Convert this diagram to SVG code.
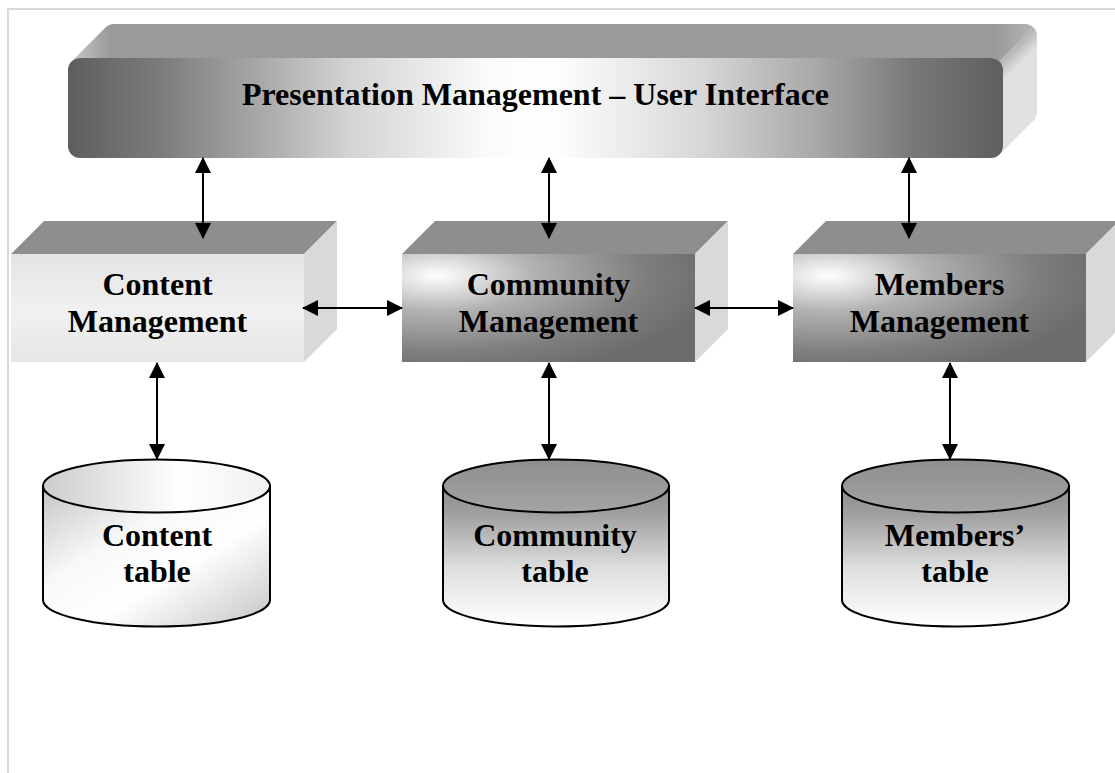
<svg xmlns="http://www.w3.org/2000/svg" width="1115" height="773" viewBox="0 0 1115 773">
<defs>
<style>
.lbl{font-family:"Liberation Serif","Times New Roman",serif;font-weight:bold;font-size:32px;fill:#000;text-anchor:middle}
.conn{stroke:#000;stroke-width:2;fill:none;marker-start:url(#ah);marker-end:url(#ah)}
.topf{fill:#8e8e8e}
.side{fill:#d9d9d9}
.cyl{stroke:#000;stroke-width:2}
</style>
<marker id="ah" viewBox="0 0 16 16" refX="15" refY="8" markerWidth="16" markerHeight="16" markerUnits="userSpaceOnUse" orient="auto-start-reverse">
<path d="M0,0 L16,8 L0,16 Z" fill="#000"/>
</marker>
<linearGradient id="gBar" x1="0" y1="0" x2="1" y2="0">
<stop offset="0" stop-color="#5e5e5e"/>
<stop offset="0.1" stop-color="#7c7c7c"/>
<stop offset="0.2" stop-color="#a6a6a6"/>
<stop offset="0.3" stop-color="#d3d3d3"/>
<stop offset="0.45" stop-color="#fbfbfb"/>
<stop offset="0.52" stop-color="#ffffff"/>
<stop offset="0.68" stop-color="#d6d6d6"/>
<stop offset="0.8" stop-color="#a8a8a8"/>
<stop offset="0.9" stop-color="#7a7a7a"/>
<stop offset="1" stop-color="#5e5e5e"/>
</linearGradient>
<linearGradient id="gBarTop" x1="0" y1="0" x2="1" y2="0">
<stop offset="0" stop-color="#c8c8c8"/>
<stop offset="0.04" stop-color="#9a9a9a"/>
<stop offset="0.96" stop-color="#9a9a9a"/>
<stop offset="1" stop-color="#b4b4b4"/>
</linearGradient>
<linearGradient id="gBarSide" gradientUnits="userSpaceOnUse" x1="1026" y1="30" x2="1040" y2="44">
<stop offset="0" stop-color="#a8a8a8"/>
<stop offset="1" stop-color="#e0e0e0"/>
</linearGradient>
<linearGradient id="gLight" x1="0" y1="0" x2="0" y2="1">
<stop offset="0" stop-color="#e3e3e3"/>
<stop offset="0.5" stop-color="#f1f1f1"/>
<stop offset="1" stop-color="#e6e6e6"/>
</linearGradient>
<radialGradient id="gDark" cx="0.12" cy="0.2" r="0.95">
<stop offset="0" stop-color="#ffffff"/>
<stop offset="0.35" stop-color="#b2b2b2"/>
<stop offset="0.75" stop-color="#7e7e7e"/>
<stop offset="1" stop-color="#6c6c6c"/>
</radialGradient>
<linearGradient id="gCylL" x1="0" y1="0" x2="1" y2="1">
<stop offset="0" stop-color="#c4c4c4"/>
<stop offset="0.35" stop-color="#f8f8f8"/>
<stop offset="0.6" stop-color="#ffffff"/>
<stop offset="1" stop-color="#c4c4c4"/>
</linearGradient>
<linearGradient id="gCylLTop" x1="0" y1="0" x2="1" y2="0">
<stop offset="0" stop-color="#cccccc"/>
<stop offset="0.6" stop-color="#ffffff"/>
<stop offset="1" stop-color="#f0f0f0"/>
</linearGradient>
<linearGradient id="gCylD" x1="0" y1="0" x2="0" y2="1">
<stop offset="0" stop-color="#8c8c8c"/>
<stop offset="0.2" stop-color="#a0a0a0"/>
<stop offset="0.6" stop-color="#e0e0e0"/>
<stop offset="1" stop-color="#ffffff"/>
</linearGradient>
<linearGradient id="gCylDTop" x1="0" y1="0" x2="0" y2="1">
<stop offset="0" stop-color="#8e8e8e"/>
<stop offset="1" stop-color="#a4a4a4"/>
</linearGradient>
</defs>

<rect width="1115" height="773" fill="#ffffff"/>
<path d="M8,773 L8,9 L1115,9" fill="none" stroke="#d9d9d9" stroke-width="2"/>

<g id="presentation">
<path fill="url(#gBarTop)" d="M71.5,61.5 A12,12 0 0 1 80,58 L991,58 A12,12 0 0 1 999.5,61.5 L1033.5,27.5 A12,12 0 0 0 1025,24 L114,24 A12,12 0 0 0 105.5,27.5 Z"/>
<path fill="url(#gBarSide)" d="M999.5,61.5 L1033.5,27.5 A12,12 0 0 1 1037,36 L1037,112 A12,12 0 0 1 1033.5,120.5 L999.5,154.5 A12,12 0 0 0 1003,146 L1003,70 A12,12 0 0 0 999.5,61.5 Z"/>
<rect x="68" y="58" width="935" height="100" rx="12" ry="12" fill="url(#gBar)"/>
<text class="lbl" x="535.5" y="105">Presentation Management – User Interface</text>
</g>

<g id="content-mgmt">
<polygon class="topf" points="11,254 44,221 337,221 304,254"/>
<polygon class="side" points="304,254 337,221 337,329 304,362"/>
<rect x="11" y="254" width="293" height="108" fill="url(#gLight)"/>
<text class="lbl" x="157.5" y="295">Content</text>
<text class="lbl" x="157.5" y="332">Management</text>
</g>

<g id="community-mgmt">
<polygon class="topf" points="402,254 435,221 728,221 695,254"/>
<polygon class="side" points="695,254 728,221 728,329 695,362"/>
<rect x="402" y="254" width="293" height="108" fill="url(#gDark)"/>
<text class="lbl" x="548.5" y="295">Community</text>
<text class="lbl" x="548.5" y="332">Management</text>
</g>

<g id="members-mgmt">
<polygon class="topf" points="793,254 826,221 1119,221 1086,254"/>
<polygon class="side" points="1086,254 1119,221 1119,329 1086,362"/>
<rect x="793" y="254" width="293" height="108" fill="url(#gDark)"/>
<text class="lbl" x="939.5" y="295">Members</text>
<text class="lbl" x="939.5" y="332">Management</text>
</g>

<g id="content-table">
<path class="cyl" fill="url(#gCylL)" d="M43,486 L43,600 A113.5,26.5 0 0 0 270,600 L270,486 Z"/>
<ellipse class="cyl" cx="156.5" cy="486" rx="113.5" ry="26.5" fill="url(#gCylLTop)"/>
<text class="lbl" x="157" y="546">Content</text>
<text class="lbl" x="157" y="582">table</text>
</g>

<g id="community-table">
<path class="cyl" fill="url(#gCylD)" d="M443,486 L443,600 A113,26.5 0 0 0 669,600 L669,486 Z"/>
<ellipse class="cyl" cx="556" cy="486" rx="113" ry="26.5" fill="url(#gCylDTop)"/>
<text class="lbl" x="555" y="546">Community</text>
<text class="lbl" x="555" y="582">table</text>
</g>

<g id="members-table">
<path class="cyl" fill="url(#gCylD)" d="M842,486 L842,600 A113.5,26.5 0 0 0 1069,600 L1069,486 Z"/>
<ellipse class="cyl" cx="955.5" cy="486" rx="113.5" ry="26.5" fill="url(#gCylDTop)"/>
<text class="lbl" x="955" y="546">Members’</text>
<text class="lbl" x="955" y="582">table</text>
</g>

<g id="connectors">
<line class="conn" x1="203" y1="158" x2="203" y2="238"/>
<line class="conn" x1="549" y1="158" x2="549" y2="238"/>
<line class="conn" x1="909" y1="158" x2="909" y2="238"/>
<line class="conn" x1="303" y1="308" x2="402" y2="308"/>
<line class="conn" x1="695" y1="308" x2="793" y2="308"/>
<line class="conn" x1="157" y1="363" x2="157" y2="459"/>
<line class="conn" x1="549" y1="363" x2="549" y2="459"/>
<line class="conn" x1="950" y1="363" x2="950" y2="459"/>
</g>
</svg>
